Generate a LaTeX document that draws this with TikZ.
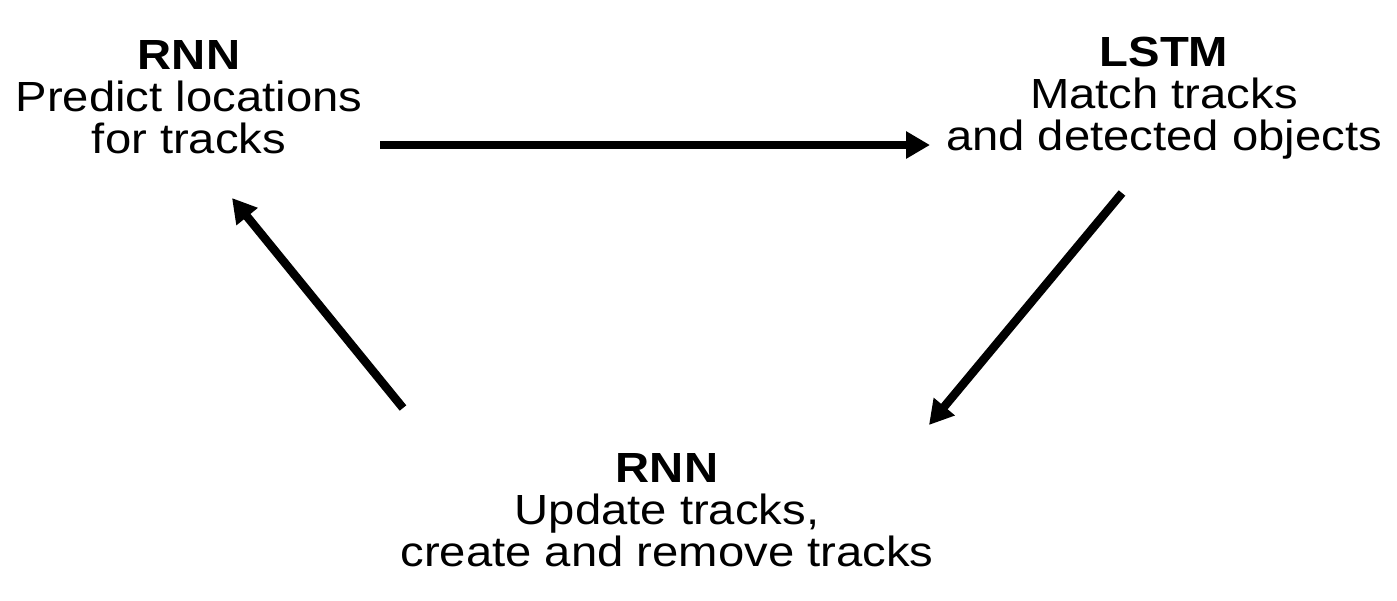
\documentclass[tikz,border=0pt]{standalone}
\usepackage{fontspec}
\setmainfont[FakeStretch=1.12]{Liberation Sans}
\usetikzlibrary{arrows.meta,positioning}

\begin{document}
\begin{tikzpicture}[x=0.02cm,y=-0.02cm,->,>={Triangle[length=0.48cm,width=0.52cm]},line width=0.17cm]
\tikzstyle{stage}=[inner sep=0pt,outer sep=0pt,align=center,anchor=north,font=\fontsize{24}{24}\selectfont]

\useasboundingbox (0,0) rectangle (1397,600);

\node[stage] (pred) at (189,40)  {\textbf{RNN}\\Predict locations\\for tracks};
\node[stage] (lstm) at (1164,37) {\textbf{LSTM}\\Match tracks\\and detected objects};
\node[stage] (upd)  at (667,453) {\textbf{RNN}\\Update tracks,\\create and remove tracks};

\coordinate (predout) at (380,145);
\coordinate (lstmin)  at (930,145);
\coordinate (lstmout) at (1122,193);
\coordinate (updin)   at (929,425);
\coordinate (updout)  at (403,408);
\coordinate (predin)  at (232,198);

\draw (predout) -- (lstmin);
\draw (lstmout) -- (updin);
\draw (updout) -- (predin);
\end{tikzpicture}
\end{document}
